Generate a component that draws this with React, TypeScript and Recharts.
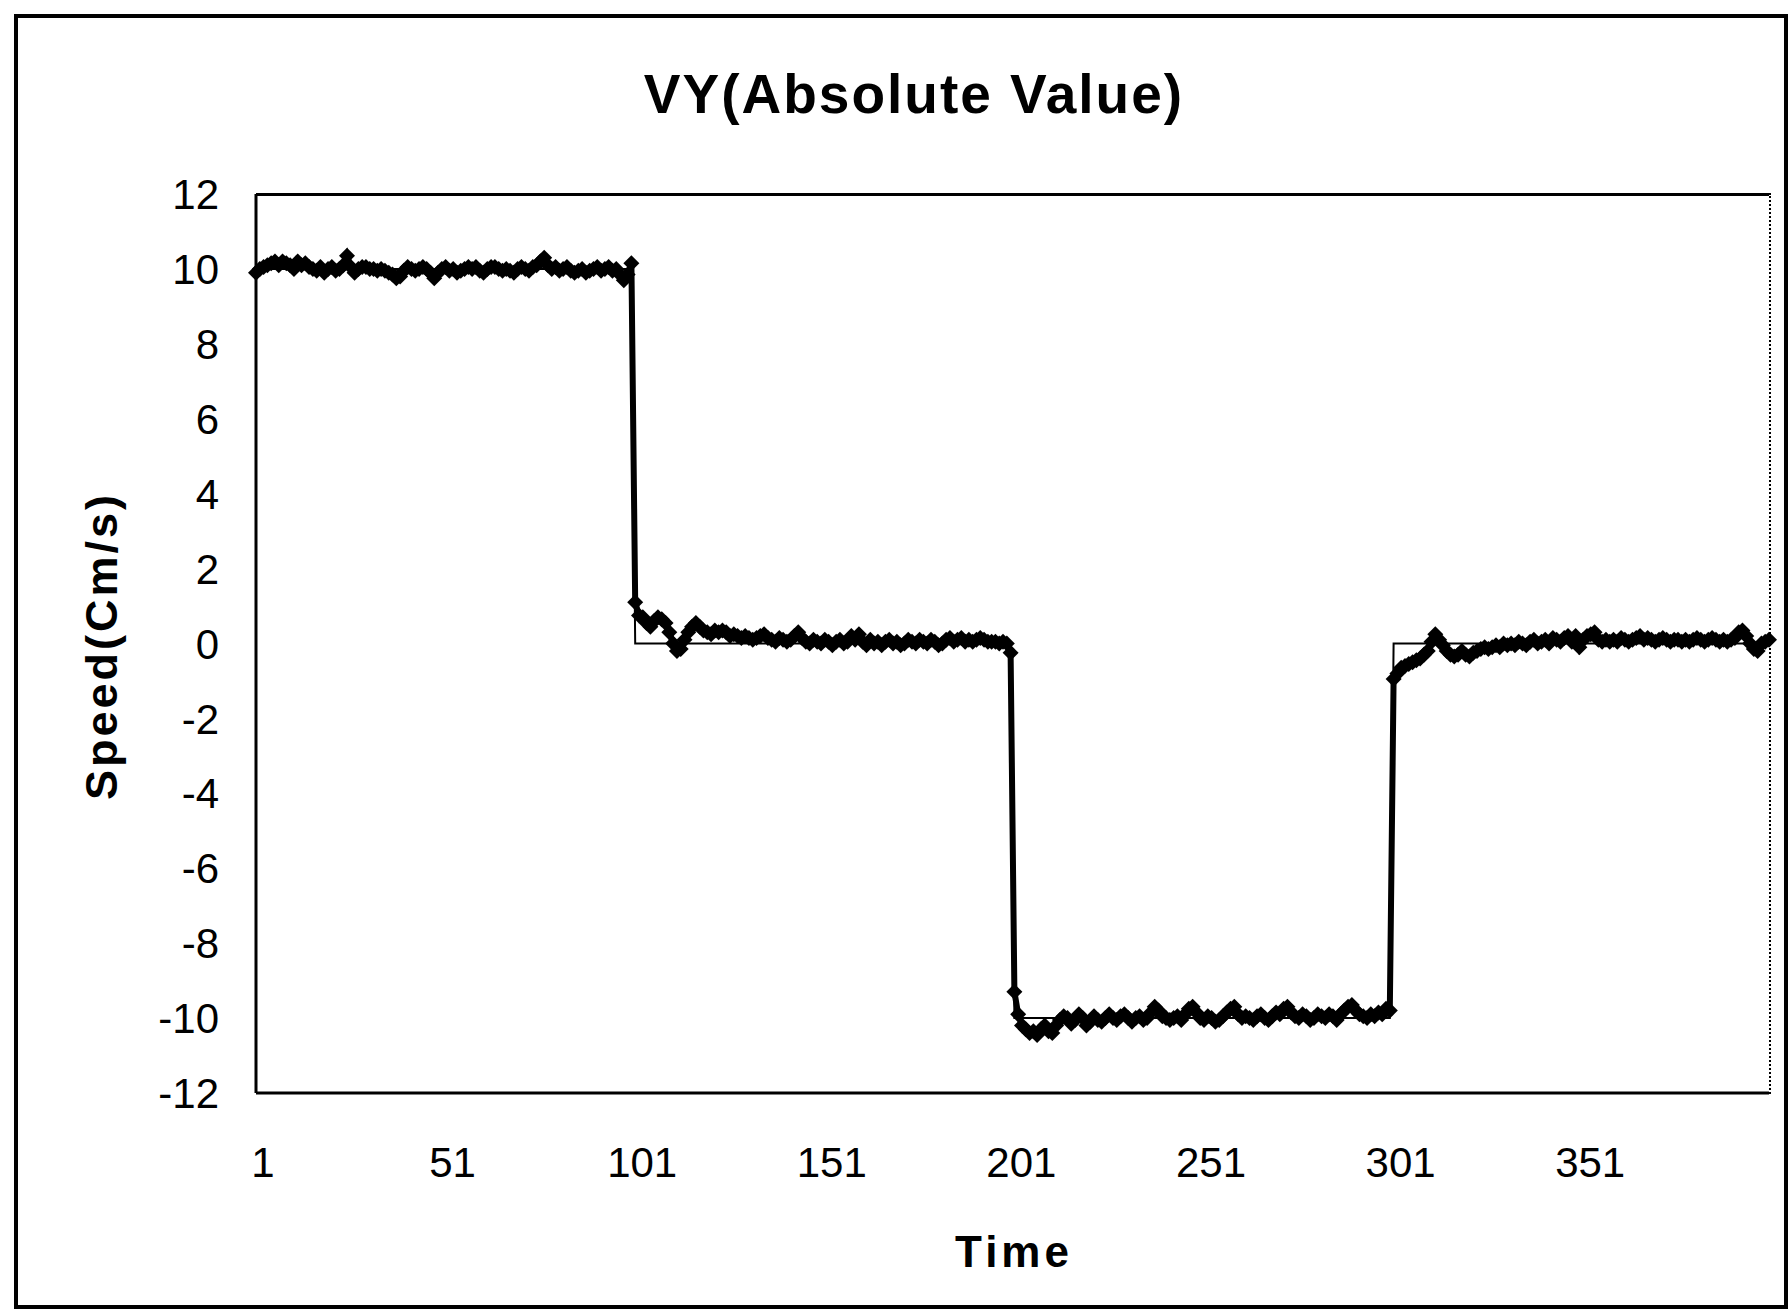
import React from 'react';
import { LineChart, Line, XAxis, YAxis } from 'recharts';

// measured VY, samples 1-100 / 101-200 / 201-300 / 301-400
const vyPart1 = [
  9.9, 10.0, 10.05, 10.1, 10.15, 10.2, 10.1, 10.2, 10.15, 10.1,
  10.0, 10.2, 10.1, 10.15, 10.05, 10.0, 9.95, 10.05, 9.9, 10.0,
  10.05, 9.95, 10.0, 10.1, 10.35, 10.05, 9.9, 10.0, 10.05, 10.05,
  10.0, 10.0, 9.95, 10.0, 9.95, 9.9, 9.85, 9.75, 9.8, 9.95,
  10.05, 10.0, 9.95, 10.0, 10.05, 10.0, 9.9, 9.75, 9.9, 10.0,
  10.05, 9.95, 10.0, 9.9, 9.95, 10.0, 10.05, 10.0, 10.05, 9.95,
  9.9, 10.0, 10.05, 10.05, 10.0, 9.95, 10.0, 9.95, 9.9, 10.0,
  10.05, 10.0, 9.95, 10.05, 10.1, 10.2, 10.3, 10.1, 10.0, 10.05,
  9.95, 10.0, 10.05, 9.95, 9.9, 9.95, 10.0, 9.9, 9.95, 10.0,
  10.05, 9.95, 10.0, 10.05, 9.95, 10.0, 9.85, 9.7, 9.85, 10.15,
];
const vyPart2 = [
  1.1, 0.75, 0.7, 0.55, 0.45, 0.6, 0.7, 0.65, 0.55, 0.3,
  0.0, -0.2, -0.15, 0.1, 0.3, 0.45, 0.55, 0.45, 0.35, 0.3,
  0.25, 0.35, 0.3, 0.35, 0.3, 0.2, 0.25, 0.2, 0.15, 0.2,
  0.15, 0.1, 0.15, 0.2, 0.25, 0.15, 0.1, 0.05, 0.15, 0.1,
  0.05, 0.1, 0.2, 0.3, 0.15, 0.05, 0.0, 0.1, 0.05, 0.0,
  0.1, 0.05, -0.05, 0.05, 0.1, 0.0, 0.05, 0.2, 0.1, 0.25,
  0.05, -0.05, 0.1, 0.0, 0.05, -0.05, 0.05, 0.1, 0.0, 0.05,
  -0.05, 0.0, 0.1, 0.05, 0.0, 0.1, 0.05, 0.0, 0.1, 0.05,
  -0.05, 0.0, 0.1, 0.15, 0.05, 0.1, 0.15, 0.05, 0.1, 0.05,
  0.1, 0.15, 0.1, 0.05, 0.05, 0.05, 0.0, 0.05, 0.0, -0.25,
];
const vyPart3 = [
  -9.3, -9.9, -10.2, -10.3, -10.4, -10.35, -10.45, -10.3, -10.2, -10.35,
  -10.4, -10.2, -10.05, -9.95, -10.0, -10.15, -10.05, -9.9, -10.0, -10.2,
  -10.1, -9.95, -10.05, -10.1, -10.0, -9.9, -10.0, -10.05, -9.95, -9.9,
  -10.0, -10.1, -10.0, -9.95, -10.05, -10.0, -9.85, -9.7, -9.8, -9.95,
  -10.0, -10.05, -10.0, -9.95, -10.05, -9.9, -9.75, -9.7, -9.85, -10.0,
  -10.05, -9.95, -10.0, -10.1, -10.05, -9.95, -9.85, -9.75, -9.7, -9.9,
  -10.0, -9.95, -10.0, -10.05, -9.95, -9.9, -10.0, -10.05, -9.95, -9.85,
  -9.9, -9.75, -9.7, -9.85, -9.95, -10.0, -9.9, -9.95, -10.05, -10.0,
  -9.9, -9.95, -10.0, -9.9, -9.95, -10.05, -9.9, -9.8, -9.7, -9.65,
  -9.8, -9.9, -9.95, -10.0, -9.9, -9.95, -9.85, -9.9, -9.75, -9.8,
];
const vyPart4 = [
  -0.95, -0.8, -0.65, -0.6, -0.55, -0.5, -0.45, -0.4, -0.3, -0.2,
  0.05, 0.25, 0.1, -0.05, -0.2, -0.3, -0.35, -0.3, -0.2, -0.3,
  -0.35, -0.25, -0.2, -0.15, -0.1, -0.15, -0.1, -0.05, -0.1, 0.0,
  -0.05, 0.0, -0.05, 0.05, 0.0, -0.05, 0.05, 0.1, 0.0, 0.05,
  0.1, 0.0, 0.15, 0.1, 0.05, 0.15, 0.2, 0.05, 0.2, -0.1,
  0.1, 0.2, 0.25, 0.3, 0.1, 0.05, 0.1, 0.05, 0.1, 0.05,
  0.15, 0.1, 0.05, 0.1, 0.15, 0.2, 0.1, 0.15, 0.1, 0.05,
  0.1, 0.15, 0.1, 0.05, 0.1, 0.1, 0.05, 0.1, 0.05, 0.1,
  0.15, 0.1, 0.05, 0.1, 0.15, 0.1, 0.05, 0.1, 0.05, 0.1,
  0.15, 0.3, 0.35, 0.2, 0.0, -0.15, -0.2, 0.0, 0.05, 0.1,
];

// commanded speed: a plain step signal
const refSteps = [
  { from: 1, to: 100, level: 10 },
  { from: 101, to: 200, level: 0 },
  { from: 201, to: 300, level: -10 },
  { from: 301, to: 400, level: 0 },
];

const yTicks = [-12, -10, -8, -6, -4, -2, 0, 2, 4, 6, 8, 10, 12];

const measured = [...vyPart1, ...vyPart2, ...vyPart3, ...vyPart4];
const data = measured.map((v, i) => {
  const t = i + 1;
  const step = refSteps.find((s) => t >= s.from && t <= s.to);
  return { t: String(t), measured: v, ref: step ? step.level : null };
});

const FONT = '"Liberation Sans", Arial, sans-serif';

const YTick = (props: any) => {
  const { x, y, payload } = props;
  return (
    <text x={x - 37} y={y} dy="0.36em" textAnchor="end" fontSize={42} fontFamily={FONT} fill="#000">
      {payload.value}
    </text>
  );
};

const XTick = (props: any) => {
  const { x, y, payload } = props;
  return (
    <text x={x + 7} y={y + 69} dy="0.36em" textAnchor="middle" fontSize={42} fontFamily={FONT} fill="#000">
      {payload.value}
    </text>
  );
};

const Diamond = (props: any) => {
  const { cx, cy } = props;
  if (cx == null || cy == null) return null;
  const r = 8;
  return <path d={`M${cx},${cy - r}L${cx + r},${cy}L${cx},${cy + r}L${cx - r},${cy}Z`} fill="#000" />;
};

const App: React.FC = () => {
  return (
    <div style={{ position: 'absolute', left: 0, top: 0, width: 1789, height: 1310, background: '#fff', fontFamily: FONT }}>
      <div
        style={{
          position: 'absolute',
          left: 14,
          top: 14,
          width: 1774,
          height: 1295,
          border: '4px solid #000',
          boxSizing: 'border-box',
        }}
      />
      <div
        style={{
          position: 'absolute',
          left: 0,
          width: 1828,
          top: 60,
          textAlign: 'center',
          fontSize: 55,
          fontWeight: 'bold',
          letterSpacing: 2,
          lineHeight: '68px',
        }}
      >
        VY(Absolute Value)
      </div>
      <div
        style={{
          position: 'absolute',
          left: 1012 - 200,
          width: 404,
          top: 1222,
          textAlign: 'center',
          fontSize: 44,
          fontWeight: 'bold',
          letterSpacing: 4,
          lineHeight: '60px',
        }}
      >
        Time
      </div>
      <div
        style={{
          position: 'absolute',
          left: 100 - 250,
          top: 646 - 30,
          width: 504,
          textAlign: 'center',
          fontSize: 45,
          fontWeight: 'bold',
          letterSpacing: 3,
          lineHeight: '60px',
          transform: 'rotate(-90deg)',
        }}
      >
        Speed(Cm/s)
      </div>
      {/* plot area frame: solid top, dotted right */}
      <div
        style={{
          position: 'absolute',
          left: 256,
          top: 193,
          width: 1515,
          height: 901,
          boxSizing: 'border-box',
          borderTop: '3px solid #000',
          borderRight: '2px dotted #000',
        }}
      />
      <div style={{ position: 'absolute', left: 0, top: 0 }}>
        <LineChart width={1789} height={1310} data={data} margin={{ top: 194, right: 20, bottom: 117, left: 156 }}>
          <XAxis
            dataKey="t"
            interval={49}
            height={100}
            tickSize={0}
            tickMargin={0}
            tick={<XTick />}
            axisLine={{ stroke: '#000', strokeWidth: 3 }}
          />
          <YAxis
            domain={[-12, 12]}
            ticks={yTicks}
            width={100}
            tickSize={0}
            tickMargin={0}
            tick={<YTick />}
            axisLine={{ stroke: '#000', strokeWidth: 3 }}
          />
          <Line type="linear" dataKey="ref" stroke="#000" strokeWidth={2} dot={false} isAnimationActive={false} />
          <Line
            type="linear"
            dataKey="measured"
            stroke="#000"
            strokeWidth={6}
            dot={<Diamond />}
            isAnimationActive={false}
          />
        </LineChart>
      </div>
    </div>
  );
};

export default App;
